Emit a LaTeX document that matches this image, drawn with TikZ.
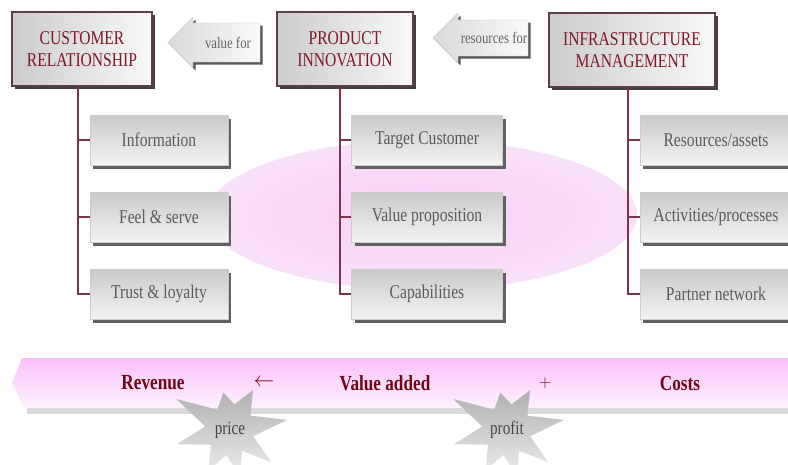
\documentclass[tikz,border=0pt]{standalone}
\usepackage{fontspec}
\setmainfont{Liberation Serif}[FakeStretch=0.8]
\usetikzlibrary{shadows}
\definecolor{titlered}{RGB}{128,22,38}
\definecolor{bandred}{RGB}{112,6,20}
\definecolor{boxborder}{RGB}{92,62,68}
\definecolor{conn}{RGB}{125,50,78}
\definecolor{subtext}{RGB}{90,90,90}
\definecolor{arrtext}{RGB}{100,100,100}
\definecolor{bandtop}{RGB}{249,192,249}
\definecolor{bandbot}{RGB}{255,242,255}
\pgfdeclareradialshading{pinkglow}{\pgfpoint{0bp}{0bp}}{rgb(0bp)=(0.97,0.82,0.97); rgb(15bp)=(0.975,0.85,0.975); rgb(30bp)=(0.985,0.9,0.985); rgb(42bp)=(0.995,0.96,0.995); rgb(50bp)=(1,1,1)}
\begin{document}
\begin{tikzpicture}[x=1pt,y=-1pt,
  mainbox/.style={draw=boxborder, line width=1.1pt, left color=gray!40, right color=gray!5,
    minimum width=140pt, minimum height=74pt, align=center, inner sep=2pt,
    font=\fontsize{19.5}{22}\selectfont, text=titlered,
    drop shadow={shadow xshift=3pt, shadow yshift=-3pt, fill=black!75, opacity=1}},
  subbox/.style={draw=gray!40, line width=0.4pt, top color=gray!42, bottom color=gray!9,
    minimum height=50pt, inner sep=2pt, font=\fontsize{19.5}{22}\selectfont, text=subtext,
    drop shadow={shadow xshift=3pt, shadow yshift=-3.5pt, fill=black!62, opacity=1}},
  connline/.style={draw=conn, line width=1.3pt},
  arrowbody/.style={left color=gray!30, right color=gray!4, draw=gray!45, line width=0.4pt},
  arrowshadow/.style={fill=black!65},
  arrlabel/.style={font=\fontsize{16}{18}\selectfont, text=arrtext},
  bandlabel/.style={font=\bfseries\fontsize{21.5}{24}\selectfont, text=bandred},
  bandsign/.style={font=\fontsize{20}{22}\selectfont, text=bandred},
  starfill/.style={top color=gray!62, bottom color=gray!14},
  starlabel/.style={font=\fontsize{19}{21}\selectfont, text=gray!55!black}
]
\useasboundingbox (0,0) rectangle (788,464);
\fill[white] (0,0) rectangle (788,464);

% pink glow
\shade[shading=pinkglow] (422,215) ellipse [x radius=215pt, y radius=75pt];

% main boxes
\node[mainbox] (cr) at (82,49) {CUSTOMER\\RELATIONSHIP};
\node[mainbox, minimum width=136pt] (pi) at (345,49) {PRODUCT\\INNOVATION};
\node[mainbox, minimum width=166pt] (im) at (632,50) {INFRASTRUCTURE\\MANAGEMENT};

% arrows between main boxes
\fill[arrowshadow, shift={(2.5,2.5)}] (168,42.5) -- (193,17) -- (193,23) -- (260,23) -- (260,62) -- (193,62) -- (193,68) -- cycle;
\path[arrowbody] (168,42.5) -- (193,17) -- (193,23) -- (260,23) -- (260,62) -- (193,62) -- (193,68) -- cycle;
\node[arrlabel] (vf) at (228,42.5) {value for};

\fill[arrowshadow, shift={(2.5,2.5)}] (433,38) -- (458,13) -- (458,20) -- (528,20) -- (528,56) -- (458,56) -- (458,63) -- cycle;
\path[arrowbody] (433,38) -- (458,13) -- (458,20) -- (528,20) -- (528,56) -- (458,56) -- (458,63) -- cycle;
\node[arrlabel] (rf) at (494,38) {resources for};

% sub boxes
\node[subbox, minimum width=138pt] (info) at (159,140) {Information};
\node[subbox, minimum width=138pt] (feel) at (159,217) {Feel \& serve};
\node[subbox, minimum width=138pt] (trust) at (159,294) {Trust \& loyalty};

\node[subbox, minimum width=151pt] (tc) at (427,140) {Target Customer};
\node[subbox, minimum width=151pt] (vp) at (427,217) {Value proposition};
\node[subbox, minimum width=151pt] (cap) at (427,294) {Capabilities};

\node[subbox, minimum width=152pt] (ra) at (716,140) {Resources/assets};
\node[subbox, minimum width=152pt] (ap) at (716,217) {Activities/processes};
\node[subbox, minimum width=152pt] (pn) at (716,294) {Partner network};

% connectors
\coordinate (crx) at (78,0);
\coordinate (pix) at (340,0);
\coordinate (imx) at (628,0);
\draw[connline] (cr.south -| crx) |- (info.west);
\draw[connline] (cr.south -| crx) |- (feel.west);
\draw[connline] (cr.south -| crx) |- (trust.west);
\draw[connline] (pi.south -| pix) |- (tc.west);
\draw[connline] (pi.south -| pix) |- (vp.west);
\draw[connline] (pi.south -| pix) |- (cap.west);
\draw[connline] (im.south -| imx) |- (ra.west);
\draw[connline] (im.south -| imx) |- (ap.west);
\draw[connline] (im.south -| imx) |- (pn.west);

% bottom band
\fill[gray!30] (27,407) rectangle (788,414);
\path[top color=bandtop, bottom color=bandbot] (12,383) -- (22,358) -- (788,358) -- (788,408) -- (24,408) -- cycle;

% starbursts
\coordinate (pricec) at (230,430);
\coordinate (profitc) at (507,430);
\foreach \c in {pricec,profitc}{
  \path[starfill] (\c) +(10:58pt) -- +(35:25pt) -- +(60:46pt) -- +(80:26pt) -- +(100:38pt) -- +(122:24pt)
    -- +(150:62pt) -- +(172:25pt) -- +(195:55pt) -- +(218:24pt) -- +(242:46pt) -- +(262:25pt)
    -- +(282:48pt) -- +(300:24pt) -- +(322:52pt) -- +(345:24pt) -- cycle;
}
\node[starlabel] (price) at (pricec) {price};
\node[starlabel] (profit) at (profitc) {profit};

% band labels
\node[bandlabel] (rev) at (153,383) {Revenue};
\node[bandsign] (larr) at (264,383) {$\leftarrow$};
\node[bandlabel] (va) at (385,383) {Value added};
\node[bandsign, font=\fontsize{17}{20}\selectfont] (plus) at (545,383) {$+$};
\node[bandlabel] (costs) at (680,383) {Costs};
\end{tikzpicture}
\end{document}
